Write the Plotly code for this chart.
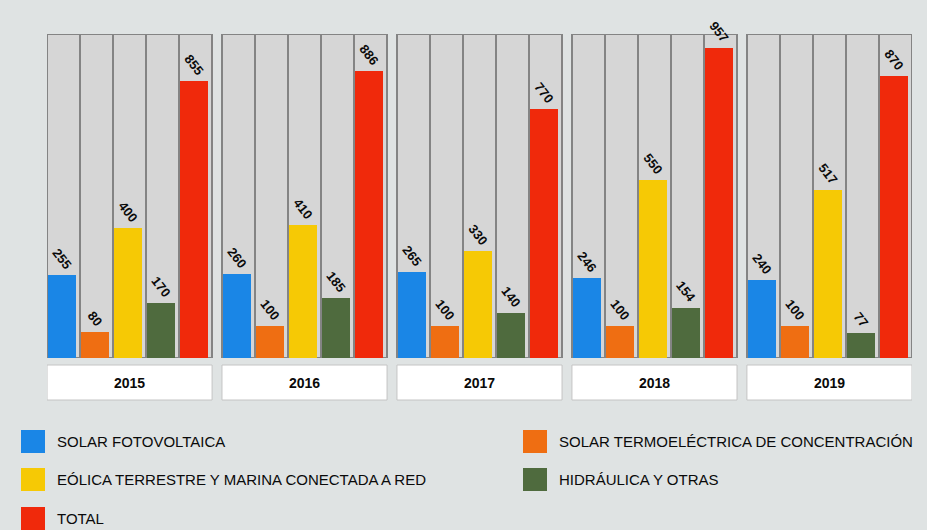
import plotly.graph_objects as go

years = ["2015", "2016", "2017", "2018", "2019"]
series_names = [
    "SOLAR FOTOVOLTAICA",
    "SOLAR TERMOELÉCTRICA DE CONCENTRACIÓN",
    "EÓLICA TERRESTRE Y MARINA CONECTADA A RED",
    "HIDRÁULICA Y OTRAS",
    "TOTAL",
]
series_colors = ["#1a86e6", "#ef6e12", "#f6c905", "#4f6b3e", "#f0290b"]

solar_fv = [255, 260, 265, 246, 240]
solar_termo = [80, 100, 100, 100, 100]
eolica = [400, 410, 330, 550, 517]
hidraulica = [170, 185, 140, 154, 77]
total = [855, 886, 770, 957, 870]
values = [solar_fv, solar_termo, eolica, hidraulica, total]

y_max = 1000
group_step = 5.3

W, H = 927, 530
ml, mr, mt, mb = 47, 15, 34, 172
pw = W - ml - mr
ph = H - mt - mb


def px_x(px):
    return (px - ml) / pw


def px_y(py):
    return (H - mb - py) / ph


fig = go.Figure()

# background tracks
track_x = []
for g in range(len(years)):
    for s in range(len(series_names)):
        track_x.append(g * group_step + s)
fig.add_trace(go.Bar(
    x=track_x, y=[y_max] * len(track_x), offset=-0.5, width=1.0,
    marker=dict(color="#d6d6d6", line=dict(color="#848484", width=2)),
    hoverinfo="skip", showlegend=False,
))

for s, name in enumerate(series_names):
    xs = [g * group_step + s for g in range(len(years))]
    fig.add_trace(go.Bar(
        x=xs, y=values[s], offset=-0.47, width=0.86, name=name,
        marker=dict(color=series_colors[s], line=dict(width=0)),
        texttemplate="<b>%{y}</b>", textposition="outside",
        textangle=52, constraintext="none", cliponaxis=False,
        textfont=dict(family="Liberation Sans", size=13, color="#0a0a0a"),
        showlegend=False,
    ))

shapes = []
annotations = []
for g, yr in enumerate(years):
    x0 = g * group_step - 0.5
    x1 = g * group_step + 4.5
    shapes.append(dict(type="rect", xref="x", yref="paper", x0=x0, x1=x1,
                       y0=px_y(400), y1=px_y(365), fillcolor="#ffffff",
                       line=dict(color="#c4c4c4", width=1), layer="above"))
    annotations.append(dict(x=(x0 + x1) / 2, y=px_y(382.5), xref="x", yref="paper",
                            text="<b>" + yr + "</b>", showarrow=False,
                            font=dict(family="Liberation Sans", size=14, color="#0a0a0a"),
                            xanchor="center", yanchor="middle"))

# legend (two columns)
legend_pos = [(21, 430, 55), (523, 430, 557), (21, 468, 55), (523, 468, 557), (21, 507, 55)]
for (sx, sy, tx), name, col in zip(legend_pos, series_names, series_colors):
    shapes.append(dict(type="rect", xref="paper", yref="paper",
                       x0=px_x(sx), x1=px_x(sx + 24), y0=px_y(sy + 23), y1=px_y(sy),
                       fillcolor=col, line=dict(width=0)))
    annotations.append(dict(x=px_x(tx), y=px_y(sy + 11.5), xref="paper", yref="paper",
                            text=name, showarrow=False, xanchor="left", yanchor="middle",
                            font=dict(family="Liberation Sans", size=15, color="#0a0a0a")))

fig.update_layout(
    width=W, height=H,
    margin=dict(l=ml, r=mr, t=mt, b=mb),
    paper_bgcolor="#dfe3e3", plot_bgcolor="#dfe3e3",
    barmode="overlay", bargap=0,
    xaxis=dict(range=[-0.5, 4 * group_step + 4.5], showgrid=False, zeroline=False,
               showticklabels=False, fixedrange=True),
    yaxis=dict(range=[0, y_max], showgrid=False, zeroline=False,
               showticklabels=False, fixedrange=True),
    shapes=shapes, annotations=annotations,
    showlegend=False,
)

fig.write_html("out.html")
